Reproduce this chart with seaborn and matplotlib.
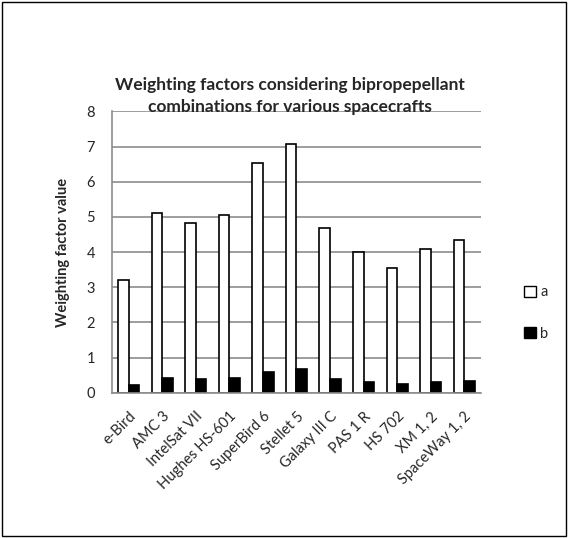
import matplotlib
matplotlib.use("Agg")
import matplotlib.pyplot as plt
import pandas as pd
import seaborn as sns
from matplotlib.patches import Rectangle, Patch

spacecraft = ["e-Bird", "AMC 3", "IntelSat VII", "Hughes HS-601", "SuperBird 6",
              "Stellet 5", "Galaxy III C", "PAS 1 R", "HS 702", "XM 1, 2", "SpaceWay 1, 2"]
factor_a = [3.2, 5.1, 4.82, 5.05, 6.52, 7.07, 4.67, 4.0, 3.55, 4.1, 4.33]
factor_b = [0.22, 0.43, 0.39, 0.42, 0.6, 0.68, 0.38, 0.3, 0.26, 0.31, 0.34]

df = pd.DataFrame({
    "craft": spacecraft * 2,
    "value": factor_a + factor_b,
    "series": ["a"] * len(spacecraft) + ["b"] * len(spacecraft),
})

sns.set_style("white")
plt.rcParams["font.family"] = ["Lato", "DejaVu Sans"]

fig = plt.figure(figsize=(5.68, 5.38), dpi=100)
ax = fig.add_axes([0.197, 0.27, 0.65, 0.523])

sns.barplot(data=df, x="craft", y="value", hue="series",
            palette={"a": "white", "b": "black"}, width=0.63,
            edgecolor="black", linewidth=1.2, ax=ax, legend=False)

ax.set_ylim(0, 8)
ax.set_yticks(range(0, 9))
ax.yaxis.grid(True, color="#8c8c8c", linewidth=1.2)
ax.set_axisbelow(True)
for side in ["top", "right"]:
    ax.spines[side].set_visible(False)
ax.spines["left"].set_color("#8c8c8c")
ax.spines["bottom"].set_color("#8c8c8c")
ax.spines["left"].set_linewidth(1.2)
ax.spines["bottom"].set_linewidth(1.2)
ax.tick_params(axis="y", length=0, labelsize=10.5, pad=12)
ax.tick_params(axis="x", length=0, labelsize=10.5, pad=12)
plt.setp(ax.get_xticklabels(), rotation=45, ha="right", rotation_mode="anchor")
ax.set_xlabel("")
ax.set_ylabel("Weighting factor value", fontsize=10.5, fontweight="bold", labelpad=12)

fig.text(0.51, 0.821, "Weighting factors considering bipropepellant\ncombinations for various spacecrafts",
         ha="center", va="center", fontsize=12.5, fontweight="bold", linespacing=1.45)

handles = [Patch(facecolor="white", edgecolor="black", label="a"),
           Patch(facecolor="black", edgecolor="black", label="b")]
fig.legend(handles=handles, loc="center left", bbox_to_anchor=(0.9, 0.418),
           frameon=False, fontsize=10.5, handlelength=0.8, handleheight=0.8,
           handletextpad=0.3, labelspacing=1.9)

fig.patches.append(Rectangle((0.004, 0.004), 0.992, 0.992, transform=fig.transFigure,
                             fill=False, edgecolor="black", linewidth=1))

fig.savefig("out.png", dpi=100)
